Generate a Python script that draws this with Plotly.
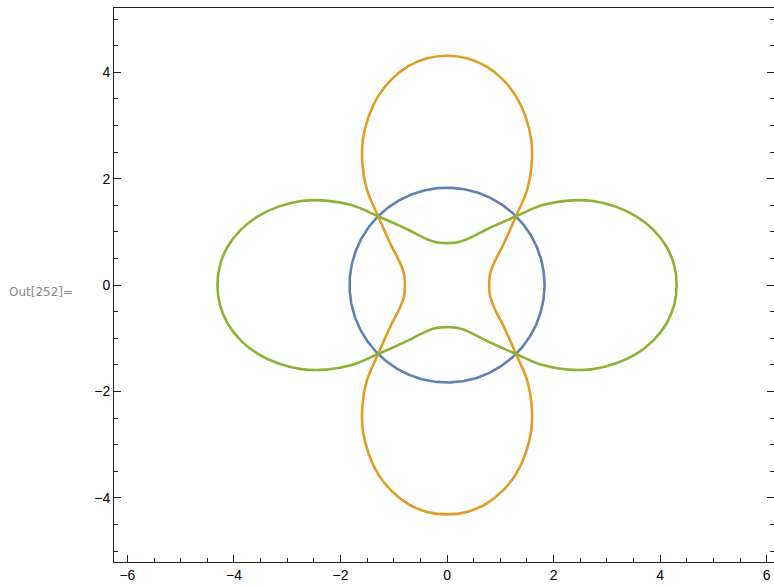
import numpy as np
import plotly.graph_objects as go

# Lobe profile r(theta) over one quadrant (degrees); the full curve follows by symmetry
lobe_theta = [0, 5, 10, 15, 20, 25, 30, 35, 40, 45, 50, 55, 60, 65, 70, 75, 80, 85, 90]
lobe_r = [4.31, 4.28, 4.18, 4.01, 3.78, 3.49, 3.16, 2.77, 2.34, 1.83,
          1.50, 1.27, 1.09, 0.97, 0.89, 0.84, 0.81, 0.795, 0.79]

circle_r = 1.83

colors = {"circle": "#5E81B5", "vertical": "#E19C24", "horizontal": "#8FB032"}

x_range = [-6.252, 6.137]
y_range = [-5.205, 5.209]


def full_curve(theta_q, r_q, rotate=0.0):
    """Mirror a first-quadrant profile into a closed curve, optionally rotated."""
    tq = np.asarray(theta_q, float)
    rq = np.asarray(r_q, float)
    th = np.concatenate([tq, 180 - tq[::-1][1:], 180 + tq[1:], 360 - tq[::-1][1:]])
    rr = np.concatenate([rq, rq[::-1][1:], rq[1:], rq[::-1][1:]])
    t = np.radians(th + rotate)
    return rr * np.cos(t), rr * np.sin(t)


fig = go.Figure()
lw = 2.6

phi = np.linspace(0, 2 * np.pi, 361)
fig.add_trace(go.Scatter(x=circle_r * np.cos(phi), y=circle_r * np.sin(phi),
                         mode="lines", line=dict(color=colors["circle"], width=lw),
                         hoverinfo="skip"))

xv, yv = full_curve(lobe_theta, lobe_r, rotate=90)
fig.add_trace(go.Scatter(x=xv, y=yv, mode="lines",
                         line=dict(color=colors["vertical"], width=lw, shape="spline"),
                         hoverinfo="skip"))

xh, yh = full_curve(lobe_theta, lobe_r, rotate=0)
fig.add_trace(go.Scatter(x=xh, y=yh, mode="lines",
                         line=dict(color=colors["horizontal"], width=lw, shape="spline"),
                         hoverinfo="skip"))

# invisible trace to carry the right-hand tick axis
fig.add_trace(go.Scatter(x=[0], y=[0], yaxis="y2", mode="markers",
                         marker=dict(opacity=0), hoverinfo="skip"))

frame_color = "#222222"
tick_font = dict(family="Liberation Sans, Arial, sans-serif", size=14, color="#000000")
minor = dict(dtick=0.5, tick0=0, ticklen=4, ticks="inside", tickcolor=frame_color,
             tickwidth=1)

fig.update_layout(
    width=774, height=585,
    margin=dict(l=114, r=0, t=8, b=23),
    paper_bgcolor="white", plot_bgcolor="white",
    showlegend=False,
    xaxis=dict(range=x_range, showgrid=False, zeroline=False,
               showline=True, linecolor=frame_color, linewidth=1, mirror=True,
               ticks="inside", ticklen=7, tickcolor=frame_color, tickwidth=1,
               dtick=2, tick0=0, minor=minor, tickfont=tick_font),
    yaxis=dict(range=y_range, showgrid=False, zeroline=False,
               showline=True, linecolor=frame_color, linewidth=1, mirror=False,
               ticks="inside", ticklen=7, tickcolor=frame_color, tickwidth=1,
               dtick=2, tick0=0, minor=minor, tickfont=tick_font),
    yaxis2=dict(range=y_range, overlaying="y", side="right", anchor="x",
                showgrid=False, zeroline=False, showline=False,
                ticks="inside", ticklen=7, tickcolor=frame_color, tickwidth=1,
                dtick=2, tick0=0, minor=minor, showticklabels=False),
    annotations=[dict(text="Out[252]=", xref="paper", yref="paper",
                      x=(7.3 - 114) / 660, y=(561.7 - 291.7) / 554,
                      xanchor="left", yanchor="middle", showarrow=False,
                      font=dict(family="DejaVu Sans, sans-serif",
                                size=12, color="#888888"))],
)

fig.write_html("out.html")
